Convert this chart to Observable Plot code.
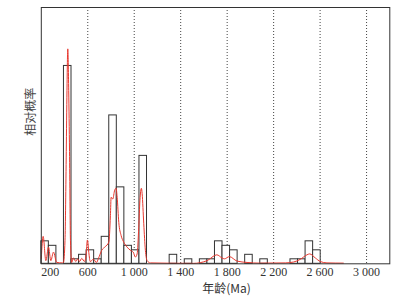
<!DOCTYPE html>
<html><head><meta charset="utf-8">
<script src="https://cdn.jsdelivr.net/npm/d3@7"></script>
<script src="https://cdn.jsdelivr.net/npm/@observablehq/plot@0.6"></script>
<style>
html,body{margin:0;padding:0;background:#fff;}
</style>
</head><body>
<div id="chart"></div>
<script>
// Histogram bins (lower edge, Ma) and counts
const binWidth = 65;
const binLo = [200,265,395,460,525,590,655,720,785,850,915,980,1045,1305,1435,1565,1630,1695,1760,1825,1955,2085,2345,2410,2475,2540];
const counts = [5,4,44,1,2,3,1,6,33,17,4,3,24,2,1,1,1,5,4,3,2,1,1,1,5,3];

// Relative probability curve
const curveAge = [200,216,239,262,282,305,333,382,391,404,415,421,428,436,443,451,462,477,497,514,529,548,572,585,597,609,621,649,675,692,720,750,781,795,801,815,832,844,853,867,887,910,939,967,991,1010,1025,1039,1049,1062,1068,1082,1096,1111,1139,1509,1627,1711,1756,1776,1819,1885,1971,2086,2300,2372,2430,2487,2510,2559,2602,2659,2800];
const curveVal = [1.2,6.1,0.7,3.7,0.7,2.6,0.3,0.2,0.3,5.2,25,38.5,47.8,38.5,25,5.2,0.3,1.3,0.5,1.1,0.5,1.2,0.5,1.8,5.3,2.5,0.5,1.0,0.3,1.2,3.0,3.8,4.8,10.7,14.8,14.4,16.4,16.8,14.8,9.2,6.3,4.8,3.7,3.0,2.6,1.5,2.2,8.1,14.1,16.8,15.6,8.9,3.0,0.7,0.2,0.1,0.7,2.0,1.3,1.1,1.6,0.6,0.3,0.15,0.2,0.4,1.0,2.0,2.2,1.3,0.5,0.2,0.15];

// Axis ticks
const tickValues = [200,600,1000,1400,1800,2200,2600,3000];
const tickLabels = ["200","600","1 000","1 400","1 800","2 200","2 600","3 000"];
const gridValues = [600,1000,1400,1800,2200,2600,3000];
const xTitle = "年龄(Ma)";
const yTitle = "相对概率";

const bars = binLo.map((lo, i) => ({x1: lo, x2: lo + binWidth, n: counts[i]}));
const curve = curveAge.map((a, i) => ({age: a, p: curveVal[i]}));
const ticks = tickValues.map((v, i) => ({v, label: tickLabels[i]}));

const serif = "'Liberation Serif','Times New Roman',serif";
const cjk = "'Noto Sans CJK SC',sans-serif";

const chart = Plot.plot({
  width: 413,
  height: 297,
  marginLeft: 40.8,
  marginRight: 23.7,
  marginTop: 7,
  marginBottom: 33.7,
  style: {background: "#fff", fontFamily: serif},
  x: {domain: [200, 3200], axis: null},
  y: {domain: [0, 57], axis: null},
  marks: [
    Plot.ruleX(gridValues, {stroke: "#444", strokeWidth: 1, strokeDasharray: "1,2"}),
    Plot.rectY(bars, {x1: "x1", x2: "x2", y1: 0, y2: "n", fill: "#fff", stroke: "#333", strokeWidth: 1, inset: 0}),
    Plot.line(curve, {x: "age", y: "p", stroke: "#e8382f", strokeWidth: 1, curve: "monotone-x"}),
    Plot.frame({stroke: "#333", strokeWidth: 1}),
    Plot.text(ticks.slice(0, 1), {x: "v", y: 0, text: "label", textAnchor: "start", dy: 8.5, fontSize: 12, fill: "#333", fontFamily: serif}),
    Plot.text(ticks.slice(1), {x: "v", y: 0, text: "label", dy: 8.5, fontSize: 12, fill: "#333", fontFamily: serif}),
    Plot.text([xTitle], {frameAnchor: "bottom", lineAnchor: "middle", dx: 11, dy: 25.5, fontSize: 12, fill: "#333", fontFamily: cjk}),
    Plot.text([yTitle], {frameAnchor: "left", lineAnchor: "middle", rotate: -90, dx: -10, fontSize: 12, fill: "#444", fontFamily: cjk})
  ]
});
document.getElementById("chart").appendChild(chart);
</script>
</body></html>
